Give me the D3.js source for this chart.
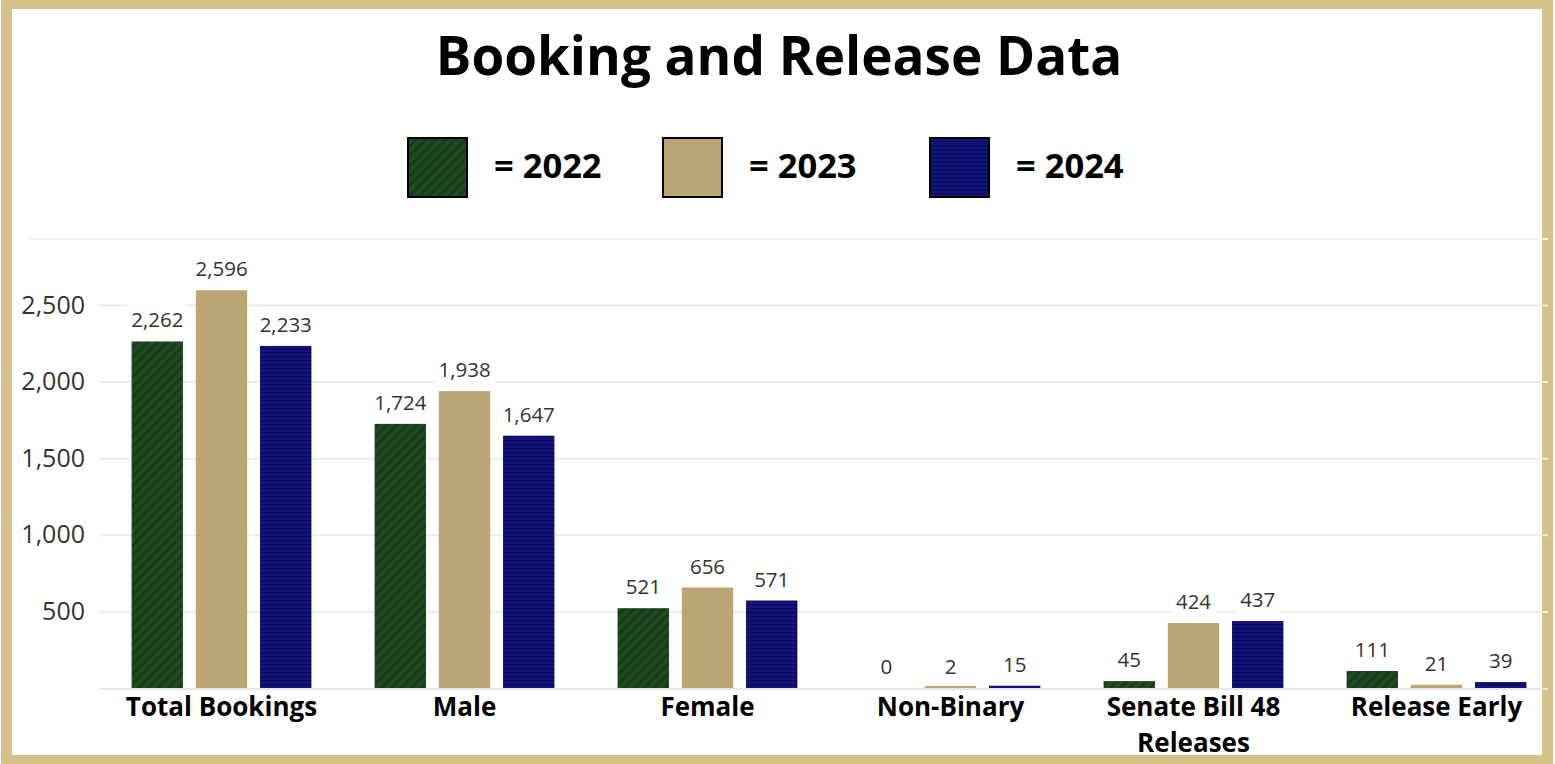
<!DOCTYPE html>
<meta charset="utf-8">
<html>
<head>
<style>
body { margin: 0; background: #fff; }
text { font-family: "Open Sans", sans-serif; }
.axis path { display: none; }
.axis line { stroke: #ececec; stroke-width: 2; }
.axis text { fill: #333; font-size: 25px; }
.val { fill: #333; font-size: 20.5px; text-anchor: middle; }
.cat { fill: #000; font-size: 26px; font-weight: bold; text-anchor: middle; }
</style>
<script src="https://cdn.jsdelivr.net/npm/d3@7"></script>
</head>
<body>
<svg width="1555" height="764"></svg>
<script>
var categories = ["Total Bookings", "Male", "Female", "Non-Binary", "Senate Bill 48\nReleases", "Release Early"];
var years = ["2022", "2023", "2024"];
var values2022 = [2262, 1724, 521, 0, 45, 111];
var values2023 = [2596, 1938, 656, 2, 424, 21];
var values2024 = [2233, 1647, 571, 15, 437, 39];
var yTicks = [500, 1000, 1500, 2000, 2500];

var series = [values2022, values2023, values2024];
var fills = ["url(#stripe2022)", "#bca574", "url(#stripe2024)"];

var svg = d3.select("svg"),
    width = +svg.attr("width"),
    height = +svg.attr("height");

var fmt = d3.format(",");

// patterns
var defs = svg.append("defs");
var p1 = defs.append("pattern")
    .attr("id", "stripe2022")
    .attr("patternUnits", "userSpaceOnUse")
    .attr("width", 7).attr("height", 7)
    .attr("patternTransform", "rotate(45)");
p1.append("rect").attr("width", 7).attr("height", 7).attr("fill", "#1f4b20");
p1.append("rect").attr("width", 2.5).attr("height", 7).attr("fill", "#173a18");

var p2 = defs.append("pattern")
    .attr("id", "stripe2024")
    .attr("patternUnits", "userSpaceOnUse")
    .attr("width", 4).attr("height", 4);
p2.append("rect").attr("width", 4).attr("height", 4).attr("fill", "#13137c");
p2.append("rect").attr("width", 4).attr("height", 1.5).attr("fill", "#0b0b5c");

// gold frame
svg.append("rect")
    .attr("x", 6.5).attr("y", 3.5)
    .attr("width", width - 14).attr("height", height - 7)
    .attr("fill", "none")
    .attr("stroke", "#d6c188")
    .attr("stroke-width", 11);

svg.append("text")
    .attr("x", 779).attr("y", 75)
    .attr("text-anchor", "middle")
    .style("font-size", "53px")
    .style("font-weight", "bold")
    .text("Booking and Release Data");

// legend
var legX = [407, 662, 929];
var leg = svg.selectAll(".leg")
    .data(years)
  .enter().append("g")
    .attr("class", "leg")
    .attr("transform", function(d, i) { return "translate(" + legX[i] + ",137)"; });

leg.append("rect")
    .attr("x", 1).attr("y", 1)
    .attr("width", 59).attr("height", 59)
    .attr("fill", function(d, i) { return fills[i]; })
    .attr("stroke", "#000")
    .attr("stroke-width", 2);

leg.append("text")
    .attr("x", 87).attr("y", 41)
    .style("font-size", "34.5px")
    .style("font-weight", "bold")
    .text(function(d) { return "= " + d; });

// chart
var plotLeft = 100, plotRight = 1548;

var x0 = d3.scaleBand()
    .domain(categories)
    .range([100, 1558])
    .paddingInner(0.26)
    .paddingOuter(0.13);

var x1 = d3.scaleBand()
    .domain(years)
    .range([0, x0.bandwidth()])
    .paddingInner(0.2);

var y = d3.scaleLinear()
    .domain([0, 2500])
    .range([688, 305]);

// faint top line
svg.append("line")
    .attr("x1", 30).attr("x2", plotRight)
    .attr("y1", 239).attr("y2", 239)
    .attr("stroke", "#f4f4f4")
    .attr("stroke-width", 2);

svg.append("g")
    .attr("class", "axis")
    .attr("transform", "translate(" + plotLeft + ",0)")
    .call(d3.axisLeft(y)
        .tickValues(yTicks)
        .tickSize(-(plotRight - plotLeft))
        .tickPadding(15)
        .tickFormat(fmt));

svg.append("line")
    .attr("x1", plotLeft).attr("x2", plotRight)
    .attr("y1", y(0) + 1).attr("y2", y(0) + 1)
    .attr("stroke", "#e6e6e6")
    .attr("stroke-width", 2);

var group = svg.selectAll(".grp")
    .data(categories)
  .enter().append("g")
    .attr("class", "grp")
    .attr("transform", function(d) { return "translate(" + x0(d) + ",0)"; });

// tiny non-zero values still get a visible sliver
group.selectAll(".bar")
    .data(function(d, ci) { return years.map(function(yr, si) { return {year: yr, si: si, value: series[si][ci]}; }); })
  .enter().append("rect")
    .attr("class", "bar")
    .attr("x", function(d) { return x1(d.year); })
    .attr("y", function(d) { return Math.min(y(d.value), d.value > 0 ? y(0) - 2 : y(0)); })
    .attr("width", x1.bandwidth())
    .attr("height", function(d) { return d.value > 0 ? Math.max(2, y(0) - y(d.value)) : 0; })
    .attr("fill", function(d) { return fills[d.si]; });

var lab = group.selectAll(".lab")
    .data(function(d, ci) { return years.map(function(yr, si) { return {year: yr, value: series[si][ci]}; }); })
  .enter().append("g")
    .attr("class", "lab")
    .attr("transform", function(d) { return "translate(" + (x1(d.year) + x1.bandwidth() / 2) + "," + (y(d.value) - 14) + ")"; });

lab.append("text")
    .attr("class", "val")
    .text(function(d) { return fmt(d.value); });

lab.insert("rect", "text")
    .attr("fill", "#fff")
    .each(function() {
      var bb = this.parentNode.querySelector("text").getBBox();
      d3.select(this)
        .attr("x", bb.x - 4).attr("y", bb.y - 1)
        .attr("width", bb.width + 8).attr("height", bb.height + 2);
    });

group.append("text")
    .attr("class", "cat")
    .attr("x", x0.bandwidth() / 2)
    .selectAll("tspan")
    .data(function(d) { return d.split("\n"); })
  .enter().append("tspan")
    .attr("x", x0.bandwidth() / 2)
    .attr("y", function(d, i) { return 716 + i * 36; })
    .text(function(d) { return d; });
</script>
</body>
</html>
